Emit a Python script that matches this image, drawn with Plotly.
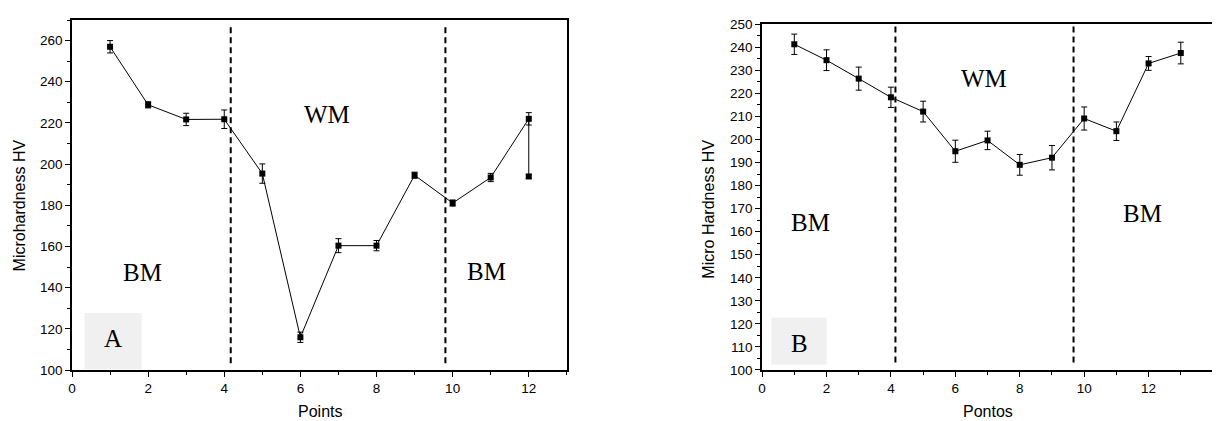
import plotly.graph_objects as go

# ---- data ----
points_a = [1, 2, 3, 4, 5, 6, 7, 8, 9, 10, 11, 12, 12]
hv_a = [257.0, 228.8, 221.7, 221.8, 195.4, 115.9, 160.4, 160.4, 194.6, 181.1, 193.5, 222.0, 194.0]
err_a = [3.0, 1.5, 3.0, 4.5, 4.7, 2.5, 3.4, 2.5, 1.5, 1.5, 2.0, 3.0, 1.0]

points_b = [1, 2, 3, 4, 5, 6, 7, 8, 9, 10, 11, 12, 13]
hv_b = [241.3, 234.4, 226.4, 218.3, 212.1, 194.9, 199.6, 189.0, 192.1, 209.1, 203.6, 233.0, 237.5]
err_b = [4.4, 4.5, 5.0, 4.4, 4.5, 4.8, 4.0, 4.5, 5.3, 5.0, 4.0, 3.0, 4.7]

bounds_a = [4.17, 9.81]
bounds_b = [4.14, 9.67]

# page body has an 8px margin; size the figure so it fills the window exactly
OFF = 8
W, H = 1220 - OFF, 421 - OFF
ML, MR, MT, MB = 72 - OFF, 5, 14 - OFF, 51
PW = W - ML - MR
PH = H - MT - MB


def px(x):
    # x given in window pixels
    return (x - OFF - ML) / PW


def py(y):
    # y given in window pixels
    return (H - MB - (y - OFF)) / PH


fig = go.Figure()

for xs, ys, es, xa, ya in [(points_a, hv_a, err_a, "x", "y"), (points_b, hv_b, err_b, "x2", "y2")]:
    fig.add_trace(go.Scatter(
        x=xs, y=ys, xaxis=xa, yaxis=ya, mode="lines+markers",
        line=dict(color="black", width=1),
        marker=dict(symbol="square", size=6, color="black"),
        error_y=dict(type="data", array=es, visible=True, color="black", thickness=1, width=3),
        showlegend=False, cliponaxis=False,
    ))

axis_common = dict(
    showgrid=False, zeroline=False, showline=True, linecolor="black", linewidth=1.5,
    mirror=True, ticks="outside", ticklen=5, tickwidth=1, tickcolor="black",
    tickfont=dict(family="Arial, Liberation Sans", size=13.5, color="black"),
)

fig.update_layout(
    width=W, height=H,
    margin=dict(l=ML, r=MR, t=MT, b=MB),
    plot_bgcolor="white", paper_bgcolor="white",
    xaxis=dict(domain=[0, px(567.7)], range=[0, 13], dtick=2, tick0=0,
               minor=dict(dtick=1, ticks="outside", ticklen=3, tickcolor="black"), **axis_common),
    yaxis=dict(domain=[0, 1], range=[100, 270], dtick=20, tick0=100,
               minor=dict(dtick=10, ticks="outside", ticklen=3, tickcolor="black"), **axis_common),
    xaxis2=dict(domain=[px(763.3), 1], range=[0, 14], dtick=2, tick0=0, anchor="y2",
                minor=dict(dtick=1, ticks="outside", ticklen=3, tickcolor="black"), **axis_common),
    yaxis2=dict(domain=[0, py(18.3)], range=[100, 250], dtick=10, tick0=100, anchor="x2",
                minor=dict(dtick=5, ticks="outside", ticklen=3, tickcolor="black"), **axis_common),
)

shapes = []
# gray label boxes
shapes.append(dict(type="rect", xref="x", yref="y", x0=0.33, x1=1.83, y0=100.5, y1=127.7,
                   fillcolor="#f0f0f0", line=dict(width=0), layer="below"))
shapes.append(dict(type="rect", xref="x2", yref="y2", x0=0.29, x1=2.0, y0=102.4, y1=122.7,
                   fillcolor="#f0f0f0", line=dict(width=0), layer="below"))
for b in bounds_a:
    shapes.append(dict(type="line", xref="x", yref="y", x0=b, x1=b, y0=103.3, y1=267.5,
                       line=dict(color="black", width=2, dash="6px,4px")))
for b in bounds_b:
    shapes.append(dict(type="line", xref="x2", yref="y2", x0=b, x1=b, y0=103.3, y1=250,
                       line=dict(color="black", width=2, dash="6px,4px")))
fig.update_layout(shapes=shapes)

serif = dict(family="Liberation Serif, Times New Roman", size=25, color="black")
sans = dict(family="Arial, Liberation Sans", size=16, color="black")
ann = [
    dict(x=6.69, y=224, xref="x", yref="y", text="WM", font=serif),
    dict(x=1.85, y=147.2, xref="x", yref="y", text="BM", font=serif),
    dict(x=10.9, y=147.7, xref="x", yref="y", text="BM", font=serif),
    dict(x=1.07, y=115.3, xref="x", yref="y", text="A", font=serif),
    dict(x=6.9, y=226.6, xref="x2", yref="y2", text="WM", font=serif),
    dict(x=1.5, y=163.9, xref="x2", yref="y2", text="BM", font=serif),
    dict(x=11.8, y=167.7, xref="x2", yref="y2", text="BM", font=serif),
    dict(x=1.15, y=111.7, xref="x2", yref="y2", text="B", font=serif),
    dict(x=px(320), y=py(412), xref="paper", yref="paper", text="Points", font=sans),
    dict(x=px(990), y=py(412), xref="paper", yref="paper", text="Pontos", font=sans),
    dict(x=px(19), y=py(202.5), xref="paper", yref="paper", text="Microhardness HV", font=sans, textangle=-90),
    dict(x=px(710), y=py(206), xref="paper", yref="paper", text="Micro Hardness HV", font=sans, textangle=-90),
]
for a in ann:
    a.update(showarrow=False, xanchor="center", yanchor="middle")
fig.update_layout(annotations=ann)

fig.write_html("out.html")
